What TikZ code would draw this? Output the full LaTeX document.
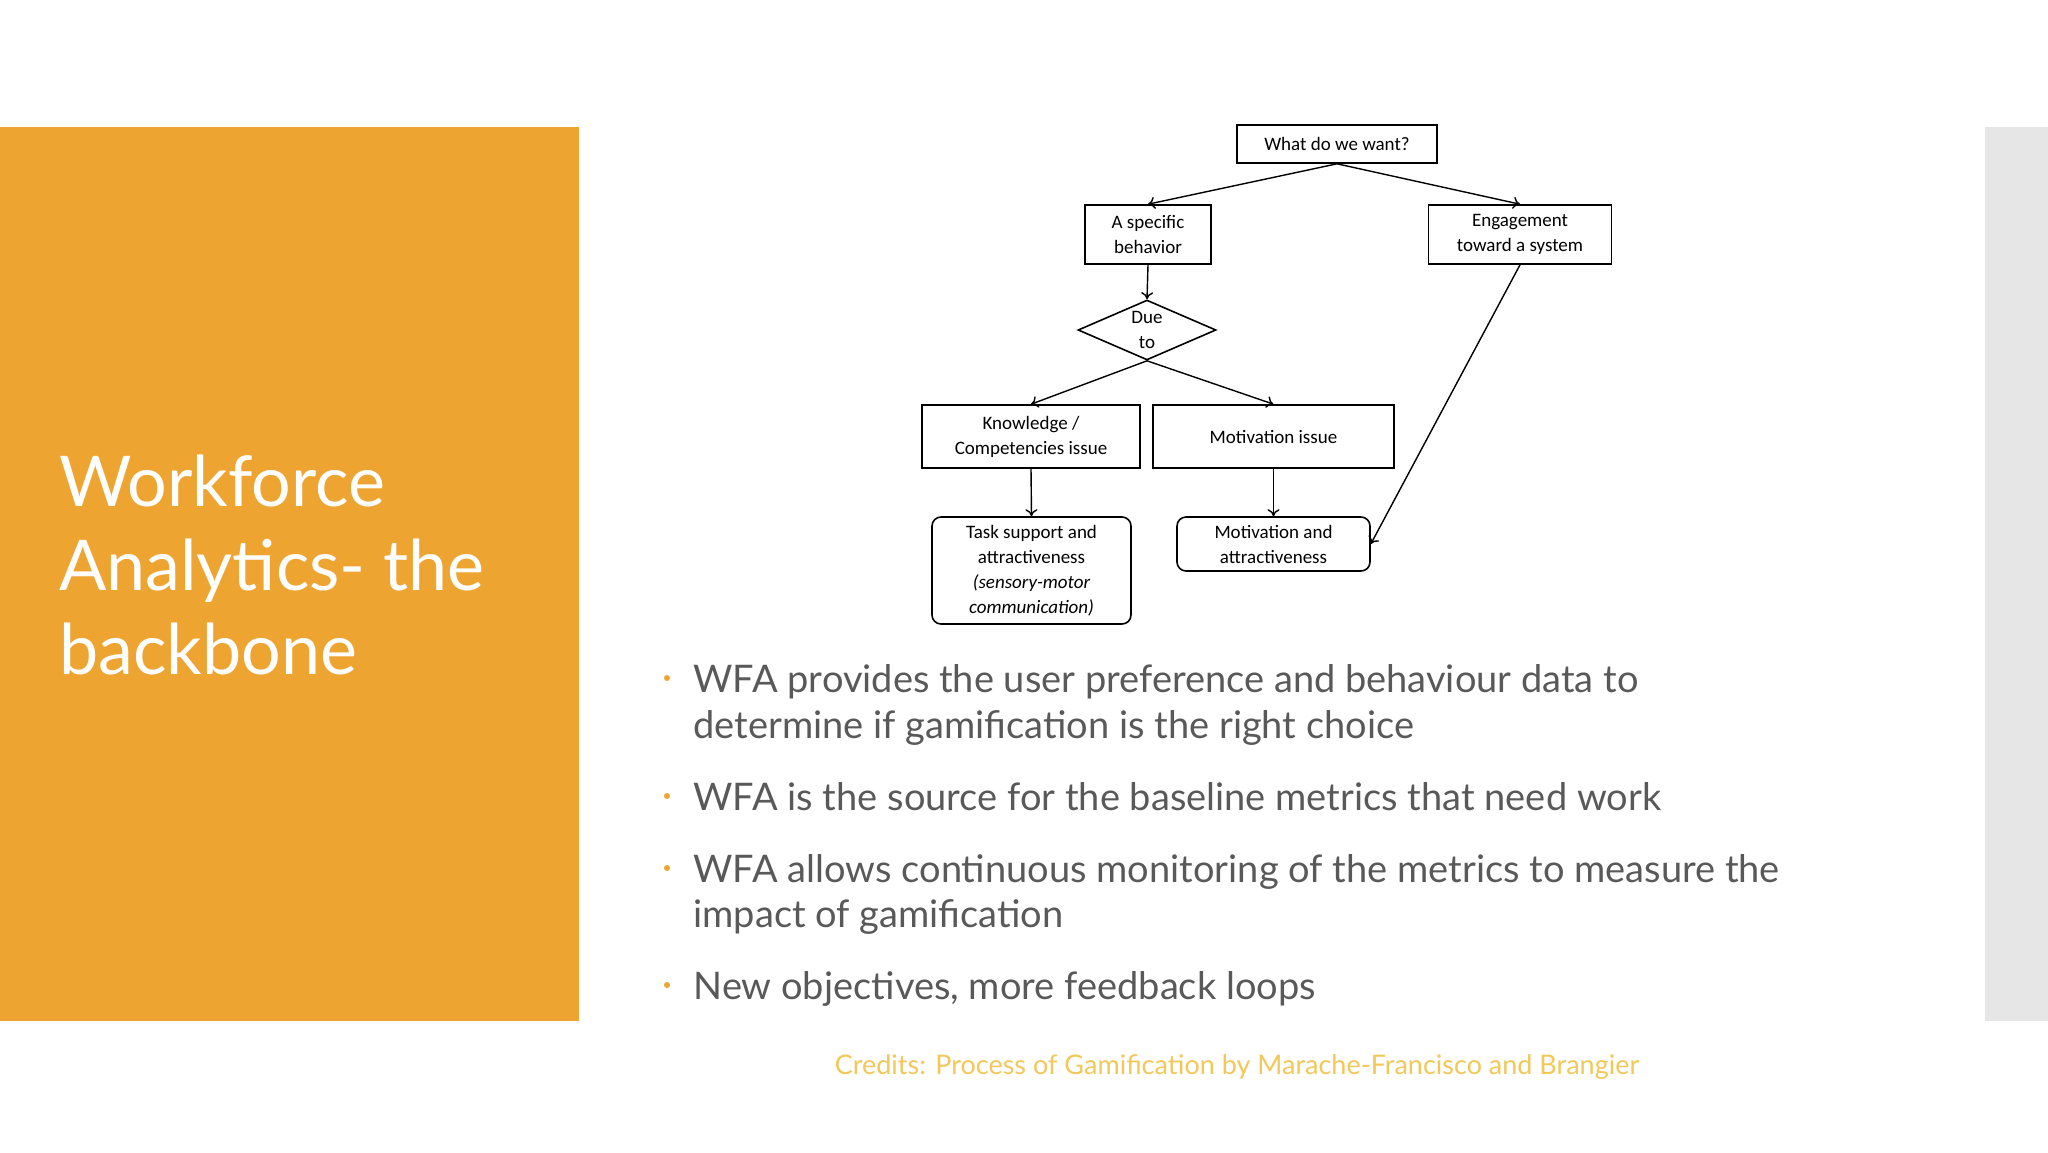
\documentclass[tikz,border=0pt]{standalone}
\usepackage{fontspec}
\setmainfont{Lato}
\newfontfamily\diag{Carlito}
\usetikzlibrary{shapes.geometric,arrows.meta}
\definecolor{orng}{HTML}{EEA431}
\definecolor{txt}{HTML}{595959}
\definecolor{cred}{HTML}{F2C85A}
\definecolor{strip}{HTML}{E6E6E6}
\begin{document}
\begin{tikzpicture}[x=1pt,y=-1pt,
  box/.style={draw,line width=1.6pt,inner sep=0,align=center,font=\diag\fontsize{19}{25}\selectfont},
  rbox/.style={box,rounded corners=9pt},
  arr/.style={line width=1.4pt,-{To[length=7pt,width=12pt]}},
  bul/.style={anchor=base west,text=txt,font=\fontsize{38}{46}\selectfont},
  dot/.style={circle,fill=orng,inner sep=0,minimum size=6pt}]
\useasboundingbox (0,0) rectangle (2048,1152);
\fill[white] (0,0) rectangle (2048,1152);
\fill[orng] (0,127) rectangle (579,1021);
\fill[strip] (1985,127) rectangle (2048,1021);
\node[anchor=north west,text=white,align=left,font=\fontsize{70}{84}\selectfont,inner sep=0] (title) at (59,455) {Workforce\\Analytics- the\\backbone};
% diagram
\node[box,minimum width=200,minimum height=38] (want) at (1337,144) {What do we want?};
\node[box,minimum width=126,minimum height=59] (spec) at (1148,234.5) {A specific\\behavior};
\node[box,minimum width=183,minimum height=59] (eng) at (1520,234.5) {Engagement\\toward a system};
\node[draw,line width=1.6pt,diamond,inner sep=0,minimum width=138,minimum height=60] (due) at (1147,330) {};
\node[font=\diag\fontsize{19}{25}\selectfont,align=center,inner sep=0] (duet) at (1147,330) {Due\\to};
\node[box,minimum width=218,minimum height=63] (know) at (1031,436.5) {Knowledge /\\Competencies issue};
\node[box,minimum width=241,minimum height=63] (moti) at (1273.5,436.5) {Motivation issue};
\node[rbox,minimum width=199,minimum height=107] (task) at (1031.5,570.5) {Task support and\\attractiveness\\\textit{(sensory-motor}\\\textit{communication)}};
\node[rbox,minimum width=193,minimum height=54] (mattr) at (1273.5,544) {Motivation and\\attractiveness};
\draw[arr] (want.south) -- (spec.north);
\draw[arr] (want.south) -- (eng.north);
\draw[arr] (spec.south) -- (due.north);
\draw[arr] (due.south) -- (know.north);
\draw[arr] (due.south) -- (moti.north);
\draw[arr] (know.south) -- (task.north);
\draw[arr] (moti.south) -- (mattr.north);
\draw[arr] (eng.south) -- (mattr.east);
% bullets
\node[bul] (b1) at (690,692) {WFA provides the user preference and behaviour data to};
\node[bul] (b1b) at (690,738) {determine if gamification is the right choice};
\node[bul] (b2) at (690,810) {WFA is the source for the baseline metrics that need work};
\node[bul] (b3) at (690,882) {WFA allows continuous monitoring of the metrics to measure the};
\node[bul] (b3b) at (690,927) {impact of gamification};
\node[bul] (b4) at (690,999) {New objectives, more feedback loops};
\node[dot] (d1) at (667,678) {};
\node[dot] (d2) at (667,796) {};
\node[dot] (d3) at (667,868) {};
\node[dot] (d4) at (667,985) {};
\node[anchor=base,text=cred,font=\fontsize{27}{32}\selectfont] (cr) at (1237,1074) {Credits: Process of Gamification by Marache-Francisco and Brangier};
\end{tikzpicture}
\end{document}
